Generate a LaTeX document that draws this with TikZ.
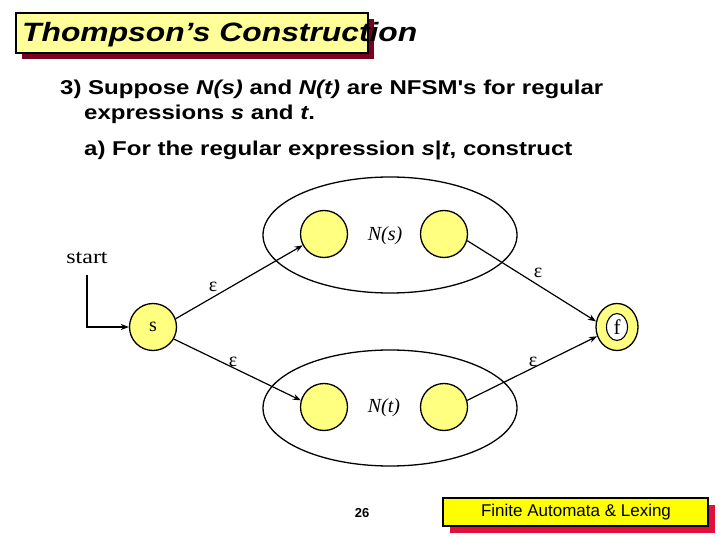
\documentclass[tikz,border=0pt]{standalone}
\usepackage{fontspec}
\setmainfont{Liberation Serif}
\setsansfont{Liberation Sans}
\usetikzlibrary{shapes,arrows,arrows.meta,positioning,calc}
\definecolor{titlefill}{HTML}{FFFF99}
\definecolor{titleshadow}{HTML}{7A0020}
\definecolor{footfill}{HTML}{FFFF00}
\definecolor{footshadow}{HTML}{E0103A}
\definecolor{statefill}{HTML}{FFFF80}
\newcommand{\wider}[1]{\scalebox{1.2}[1]{#1}}

\begin{document}
\begin{tikzpicture}[x=1pt, y=-1pt,
    state/.style={circle, draw, fill=statefill, line width=1.3pt, minimum size=47pt, inner sep=0pt, font=\fontsize{20}{24}\selectfont},
    nfa/.style={ellipse, draw, line width=1.3pt, minimum width=254pt, minimum height=116pt, inner sep=0pt},
    eps/.style={font=\fontsize{20}{24}\selectfont, inner sep=0pt},
    body/.style={anchor=base west, font=\sffamily\bfseries\fontsize{20}{24}\selectfont, inner sep=0pt},
    trans/.style={-{Stealth[length=8pt,width=6pt]}, line width=1.2pt}
]
\useasboundingbox (0,0) rectangle (720,540);

% Title bar
\fill[titleshadow] (22,19) rectangle (374,59);
\draw[fill=titlefill, line width=1.2pt] (16,13) rectangle (368,53);
\node[anchor=base west, inner sep=0pt, font=\sffamily\bfseries\itshape\fontsize{26.5}{30}\selectfont] (title) at (22,42) {\wider{Thompson’s Construction}};

% Text
\node[body] (line1) at (60,95) {\wider{3) Suppose \textit{N(s)} and \textit{N(t)} are NFSM\textquotesingle s for regular}};
\node[body] (line2) at (84,120) {\wider{expressions \textit{s} and \textit{t}.}};
\node[body] (line3) at (84,156) {\wider{a) For the regular expression \textit{s}|\textit{t}, construct}};

% Sub-automata
\node[nfa] (ns) at (390,235) {};
\node[nfa] (nt) at (390,408) {};
\node[font=\itshape\fontsize{20}{24}\selectfont] (nslabel) at (385,236) {N(s)};
\node[font=\itshape\fontsize{20}{24}\selectfont] (ntlabel) at (384,408) {N(t)};

% States
\node[state] (s) at (153,327) {s};
\node[state] (nsl) at (324,234) {};
\node[state] (nsr) at (444,234) {};
\node[state] (ntl) at (324,407) {};
\node[state] (ntr) at (444,407) {};
\node[ellipse, draw, fill=statefill, line width=1.3pt, minimum width=42pt, minimum height=47pt, inner sep=0pt] (f) at (617,327) {};
\node[ellipse, draw, fill=white, line width=1.1pt, minimum width=21pt, minimum height=27pt, inner sep=0pt, font=\fontsize{21}{24}\selectfont] (fin) at (f) {f};

% Start
\node[font=\fontsize{20}{24}\selectfont] (start) at (87,258) {\wider{start}};
\draw[trans] ([yshift=-8pt]start.south) |- (s);

% Epsilon moves
\draw[trans] (s.20) -- (nsl.208);
\draw[trans] (nsr.-16) -- (f.165);
\draw[trans] (s.-30) -- (ntl.164);
\draw[trans] (ntr.16) -- (f.205);
\node[eps] (e1) at (213,287) {ε};
\node[eps] (e2) at (538,273) {ε};
\node[eps] (e3) at (233,362) {ε};
\node[eps] (e4) at (533,362) {ε};

% Footer
\node[font=\sffamily\bfseries\fontsize{13}{15}\selectfont] (page) at (362,513) {26};
\fill[footshadow] (450,505) rectangle (715,533);
\draw[fill=footfill, line width=1.2pt] (443,498) rectangle (708,526);
\node[font=\sffamily\fontsize{17}{20}\selectfont] (foot) at (576,512) {Finite Automata \& Lexing};
\end{tikzpicture}
\end{document}
